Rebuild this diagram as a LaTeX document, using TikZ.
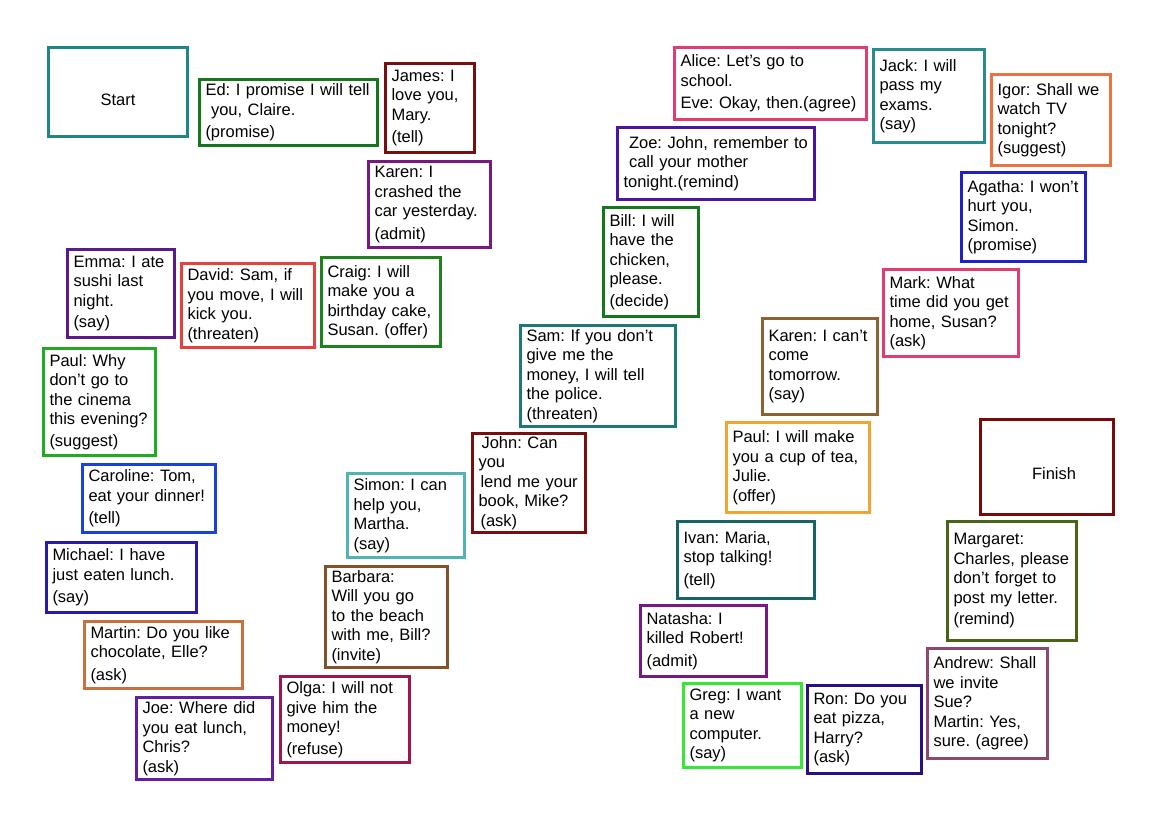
\documentclass[tikz,border=0pt]{standalone}
\usepackage{fontspec}
\setmainfont{Liberation Sans}
\definecolor{cStart}{RGB}{32,133,133}
\definecolor{cEd}{RGB}{22,120,30}
\definecolor{cJames}{RGB}{120,15,15}
\definecolor{cKaren}{RGB}{120,25,130}
\definecolor{cEmma}{RGB}{90,25,140}
\definecolor{cDavid}{RGB}{230,65,65}
\definecolor{cCraig}{RGB}{30,130,30}
\definecolor{cPaul}{RGB}{35,170,35}
\definecolor{cCaroline}{RGB}{25,65,220}
\definecolor{cMichael}{RGB}{40,25,170}
\definecolor{cMartin}{RGB}{200,112,62}
\definecolor{cJoe}{RGB}{100,30,160}
\definecolor{cOlga}{RGB}{160,20,80}
\definecolor{cBarbara}{RGB}{130,82,42}
\definecolor{cSimon}{RGB}{80,180,180}
\definecolor{cSam}{RGB}{30,120,120}
\definecolor{cZoe}{RGB}{72,22,160}
\definecolor{cAlice}{RGB}{222,62,112}
\definecolor{cJack}{RGB}{40,140,140}
\definecolor{cIgor}{RGB}{235,115,65}
\definecolor{cAgatha}{RGB}{32,32,200}
\definecolor{cKarenTwo}{RGB}{140,100,52}
\definecolor{cPaulTwo}{RGB}{240,165,50}
\definecolor{cFinish}{RGB}{120,10,10}
\definecolor{cIvan}{RGB}{22,100,100}
\definecolor{cGreg}{RGB}{55,230,55}
\definecolor{cRon}{RGB}{40,15,130}
\definecolor{cAndrew}{RGB}{140,72,110}
\definecolor{cMargaret}{RGB}{72,100,22}
\begin{document}
\begin{tikzpicture}[x=1pt,y=-1pt,
  card/.style n args={3}{draw=#1, line width=3.2pt, minimum width=#2pt, minimum height=#3pt,
    text width=#2pt-12pt, inner xsep=6pt, inner ysep=2pt, align=left,
    font=\fontsize{16.5}{19.5}\selectfont\frenchspacing},
  goal/.style n args={3}{draw=#1, line width=3.2pt, minimum width=#2pt, minimum height=#3pt,
    font=\fontsize{16.5}{19.5}\selectfont}]
\useasboundingbox (0,0) rectangle (1169,821);
% left column, top to bottom
\node[goal={cStart}{139}{89}] (start) at (118,92) {\raisebox{-14pt}[0pt][0pt]{Start}};
\node[card={cEd}{178}{66}] (ed) at (288.5,112.5) {Ed: I promise I will tell\\\ you, Claire.\\[3pt](promise)};
\node[card={cJames}{89}{89}] (james) at (430,108) {James: I\\love you,\\Mary.\\[3pt](tell)};
\node[card={cKaren}{122}{86}] (karen) at (429.5,204.5) {Karen: I\\crashed the\\car yesterday.\\[3pt](admit)};
\node[card={cEmma}{107}{88}] (emma) at (121,293.5) {Emma: I ate\\sushi last\\night.\\[2pt](say)};
\node[card={cDavid}{133}{84}] (david) at (248,305.5) {David: Sam, if\\you move, I will\\kick you.\\(threaten)};
\node[card={cCraig}{119}{89}] (craig) at (381,302) {Craig: I will\\make you a\\birthday cake,\\Susan. (offer)};
\node[card={cPaul}{112}{107}] (paul) at (99.5,402) {Paul: Why\\don't go to\\the cinema\\this evening?\\[2pt](suggest)};
\node[card={cCaroline}{133}{68}] (caroline) at (149,498.5) {Caroline: Tom,\\eat your dinner!\\[3pt](tell)};
\node[card={cMichael}{150}{70}] (michael) at (121.5,577.5) {Michael: I have\\just eaten lunch.\\[3pt](say)};
\node[card={cMartin}{158}{67}] (martin) at (163.5,655) {Martin: Do you like\\chocolate, Elle?\\[3pt](ask)};
\node[card={cJoe}{136}{82}] (joe) at (204.5,738.5) {Joe: Where did\\you eat lunch,\\Chris?\\(ask)};
% middle column, bottom to top
\node[card={cOlga}{129}{86}] (olga) at (345,719.5) {Olga: I will not\\give him the\\money!\\[2pt](refuse)};
\node[card={cBarbara}{122}{101}] (barbara) at (386.5,617) {Barbara:\\Will you go\\to the beach\\with me, Bill?\\(invite)};
\node[card={cSimon}{117}{84}] (simon) at (406,515.5) {Simon: I can\\help you,\\Martha.\\(say)};
\node[card={cJames}{113}{99}] (john) at (529,483) {\hspace{3pt}John: Can\\you\\\hspace{2pt}lend me your\\book, Mike?\\\hspace{2pt}(ask)};
\node[card={cSam}{155}{101}] (sam) at (598,376) {Sam: If you don't\\give me the\\money, I will tell\\the police.\\(threaten)};
\node[card={cEd}{95}{109}] (bill) at (651,262) {Bill: I will\\have the\\chicken,\\please.\\[2pt](decide)};
\node[card={cZoe}{197}{72}] (zoe) at (716,163.5) {\ Zoe: John, remember to\\\ call your mother\\tonight.(remind)};
% right side
\node[card={cAlice}{192}{72}] (alice) at (770.5,83.5) {Alice: Let's go to\\school.\\[3pt]Eve: Okay, then.(agree)};
\node[card={cJack}{111}{93}] (jack) at (929,96) {Jack: I will\\pass my\\exams.\\(say)};
\node[card={cIgor}{119}{91}] (igor) at (1051,120) {Igor: Shall we\\watch TV\\tonight?\\(suggest)};
\node[card={cAgatha}{124}{89}] (agatha) at (1023.5,217) {Agatha: I won't\\hurt you,\\Simon.\\(promise)};
\node[card={cAlice}{135}{87}] (mark) at (951,313) {Mark: What\\time did you get\\home, Susan?\\(ask)};
\node[card={cKarenTwo}{115}{96}] (karentwo) at (820,366.5) {Karen: I can't\\come\\tomorrow.\\(say)};
\node[card={cPaulTwo}{143}{90}] (paultwo) at (798,467.5) {Paul: I will make\\you a cup of tea,\\Julie.\\(offer)};
\node[goal={cFinish}{133}{95}] (finish) at (1047,467) {\hspace{14pt}\raisebox{-12pt}[0pt][0pt]{Finish}};
\node[card={cIvan}{137}{77}] (ivan) at (746,560) {Ivan: Maria,\\stop talking!\\[3pt](tell)};
\node[card={cKaren}{126}{71}] (natasha) at (703.5,641) {Natasha: I\\killed Robert!\\[3pt](admit)};
\node[card={cGreg}{118}{84}] (greg) at (742.5,725.5) {Greg: I want\\a new\\computer.\\(say)};
\node[card={cRon}{114}{88}] (ron) at (864.5,729.5) {Ron: Do you\\eat pizza,\\Harry?\\(ask)};
\node[card={cAndrew}{120}{110}] (andrew) at (987.5,703.5) {Andrew: Shall\\we invite\\Sue?\\Martin: Yes,\\sure. (agree)};
\node[card={cMargaret}{129}{119}] (margaret) at (1012,581) {Margaret:\\Charles, please\\don't forget to\\post my letter.\\[2pt](remind)\\[8pt]};
\end{tikzpicture}
\end{document}
